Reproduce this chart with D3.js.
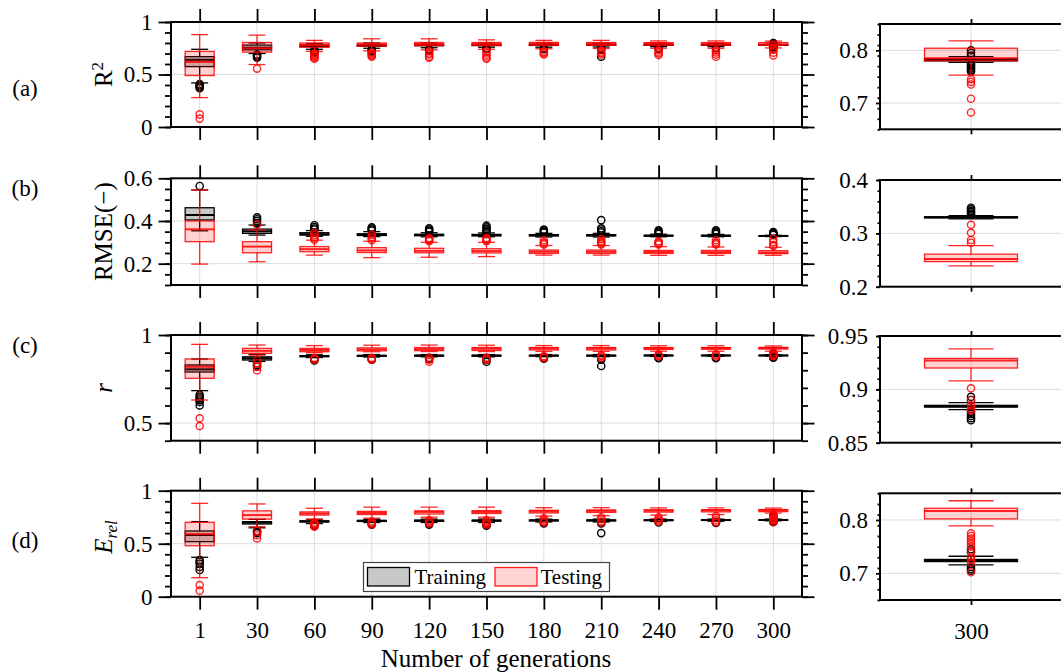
<!DOCTYPE html>
<html>
<head>
<meta charset="utf-8">
<script src="https://cdn.jsdelivr.net/npm/d3@7"></script>
<style>
  body { margin: 0; background: #fff; }
  text { font-family: "Liberation Serif", "DejaVu Serif", serif; fill: #000; }
</style>
</head>
<body>
<script>
// Generations on the x axis
var generations = ["1", "30", "60", "90", "120", "150", "180", "210", "240", "270", "300"];

// Box stats per generation: [lower whisker, q1, median, q3, upper whisker]
// (a) R^2
var r2Train = [
  [0.42, 0.575, 0.64, 0.67, 0.74], [0.70, 0.735, 0.755, 0.78, 0.80], [0.74, 0.765, 0.772, 0.78, 0.795],
  [0.75, 0.77, 0.777, 0.782, 0.80], [0.755, 0.775, 0.78, 0.785, 0.80], [0.76, 0.776, 0.781, 0.786, 0.80],
  [0.76, 0.777, 0.781, 0.786, 0.80], [0.762, 0.778, 0.782, 0.786, 0.80], [0.765, 0.778, 0.782, 0.786, 0.80],
  [0.766, 0.779, 0.782, 0.785, 0.795], [0.777, 0.780, 0.782, 0.784, 0.788]
];
var r2TrainOut = [
  [0.41, 0.40, 0.39, 0.38, 0.37], [0.69, 0.68, 0.67, 0.66], [0.73, 0.72, 0.71], [0.74, 0.73, 0.72],
  [0.74, 0.73], [0.75, 0.74], [0.75, 0.74], [0.75, 0.74, 0.67], [0.75, 0.745], [0.755, 0.75],
  [0.80, 0.795, 0.79, 0.775, 0.772, 0.77, 0.767, 0.765, 0.762, 0.76]
];
var r2Test = [
  [0.28, 0.49, 0.62, 0.72, 0.88], [0.595, 0.713, 0.75, 0.805, 0.875], [0.72, 0.76, 0.78, 0.80, 0.825],
  [0.725, 0.77, 0.785, 0.80, 0.84], [0.735, 0.775, 0.79, 0.805, 0.84], [0.74, 0.776, 0.79, 0.805, 0.83],
  [0.745, 0.778, 0.792, 0.806, 0.825], [0.748, 0.778, 0.792, 0.805, 0.825], [0.75, 0.779, 0.792, 0.804, 0.82],
  [0.75, 0.779, 0.792, 0.804, 0.82], [0.753, 0.780, 0.785, 0.804, 0.818]
];
var r2TestOut = [
  [0.12, 0.08], [0.556], [0.70, 0.69, 0.68, 0.67, 0.66, 0.65], [0.71, 0.70, 0.69, 0.68, 0.67],
  [0.72, 0.70, 0.69, 0.67, 0.66], [0.72, 0.70, 0.68, 0.66, 0.65], [0.72, 0.71, 0.70, 0.69],
  [0.73, 0.71, 0.70, 0.69], [0.73, 0.71, 0.70, 0.685], [0.73, 0.71, 0.69, 0.67],
  [0.745, 0.74, 0.735, 0.708, 0.682]
];

// (b) RMSE
var rmseTrain = [
  [0.354, 0.405, 0.428, 0.462, 0.545], [0.334, 0.342, 0.352, 0.362, 0.381], [0.328, 0.334, 0.338, 0.345, 0.355],
  [0.327, 0.332, 0.336, 0.340, 0.350], [0.326, 0.331, 0.334, 0.338, 0.345], [0.326, 0.330, 0.334, 0.337, 0.344],
  [0.325, 0.330, 0.333, 0.336, 0.342], [0.325, 0.330, 0.333, 0.336, 0.342], [0.326, 0.329, 0.331, 0.333, 0.338],
  [0.326, 0.329, 0.331, 0.333, 0.337], [0.327, 0.329, 0.330, 0.331, 0.333]
];
var rmseTrainOut = [
  [0.564], [0.417, 0.408, 0.40, 0.39], [0.38, 0.372, 0.365, 0.36], [0.37, 0.365, 0.36, 0.355],
  [0.366, 0.36, 0.355, 0.35], [0.378, 0.37, 0.362, 0.355, 0.35], [0.36, 0.355, 0.35, 0.345],
  [0.404, 0.366, 0.36, 0.352, 0.346], [0.356, 0.35, 0.345, 0.34], [0.356, 0.35, 0.345, 0.34],
  [0.348, 0.345, 0.342, 0.34, 0.337, 0.335]
];
var rmseTest = [
  [0.198, 0.303, 0.361, 0.40, 0.545], [0.209, 0.251, 0.28, 0.303, 0.358], [0.24, 0.256, 0.268, 0.28, 0.31],
  [0.228, 0.252, 0.262, 0.275, 0.305], [0.23, 0.251, 0.26, 0.272, 0.30], [0.233, 0.250, 0.259, 0.27, 0.30],
  [0.24, 0.248, 0.256, 0.264, 0.285], [0.24, 0.248, 0.256, 0.264, 0.285], [0.239, 0.248, 0.255, 0.262, 0.28],
  [0.239, 0.248, 0.254, 0.262, 0.278], [0.239, 0.247, 0.252, 0.261, 0.277]
];
var rmseTestOut = [
  [], [0.384], [0.345, 0.335, 0.325, 0.318, 0.312], [0.335, 0.325, 0.318, 0.31], [0.32, 0.315, 0.31, 0.305],
  [0.32, 0.315, 0.31, 0.305], [0.31, 0.30, 0.295, 0.29], [0.315, 0.305, 0.30, 0.295, 0.29],
  [0.305, 0.30, 0.295, 0.29], [0.31, 0.30, 0.295, 0.29], [0.316, 0.301, 0.2875, 0.2825]
];

// (c) r
var rTrain = [
  [0.684, 0.79, 0.805, 0.83, 0.864], [0.85, 0.858, 0.868, 0.876, 0.89], [0.872, 0.877, 0.88, 0.883, 0.888],
  [0.875, 0.879, 0.882, 0.884, 0.889], [0.876, 0.880, 0.883, 0.885, 0.889], [0.876, 0.880, 0.883, 0.885, 0.889],
  [0.877, 0.881, 0.883, 0.885, 0.889], [0.877, 0.881, 0.883, 0.885, 0.889], [0.878, 0.882, 0.884, 0.885, 0.888],
  [0.879, 0.882, 0.884, 0.885, 0.888], [0.881, 0.8835, 0.884, 0.885, 0.8875]
];
var rTrainOut = [
  [0.66, 0.65, 0.64, 0.63, 0.62, 0.60], [0.84, 0.83, 0.82], [0.865, 0.86, 0.855], [0.865, 0.86],
  [0.87, 0.865], [0.87, 0.86, 0.848], [0.87, 0.865], [0.87, 0.86, 0.824], [0.872, 0.868], [0.872, 0.868],
  [0.893, 0.89, 0.879, 0.877, 0.875, 0.873, 0.871]
];
var rTest = [
  [0.631, 0.754, 0.82, 0.864, 0.947], [0.886, 0.896, 0.91, 0.924, 0.943], [0.90, 0.905, 0.915, 0.924, 0.94],
  [0.905, 0.91, 0.918, 0.927, 0.942], [0.906, 0.911, 0.92, 0.929, 0.943], [0.906, 0.912, 0.922, 0.929, 0.942],
  [0.907, 0.915, 0.924, 0.929, 0.94], [0.907, 0.915, 0.924, 0.929, 0.94], [0.908, 0.918, 0.925, 0.929, 0.939],
  [0.908, 0.919, 0.926, 0.929, 0.939], [0.908, 0.920, 0.927, 0.929, 0.938]
];
var rTestOut = [
  [0.527, 0.483], [0.858, 0.84, 0.82, 0.80], [0.87, 0.865, 0.86], [0.87, 0.865, 0.86], [0.87, 0.86, 0.848],
  [0.87, 0.865, 0.86], [0.88, 0.875, 0.87], [0.885, 0.88, 0.87], [0.89, 0.885, 0.88], [0.89, 0.885, 0.878],
  [0.901, 0.890, 0.885, 0.882, 0.880]
];

// (d) E_rel
var eTrain = [
  [0.372, 0.519, 0.582, 0.62, 0.708], [0.65, 0.686, 0.70, 0.708, 0.73], [0.69, 0.705, 0.71, 0.716, 0.73],
  [0.70, 0.71, 0.715, 0.72, 0.73], [0.70, 0.712, 0.717, 0.722, 0.732], [0.70, 0.713, 0.718, 0.722, 0.732],
  [0.705, 0.715, 0.72, 0.724, 0.732], [0.705, 0.715, 0.72, 0.724, 0.732], [0.71, 0.718, 0.722, 0.725, 0.732],
  [0.712, 0.72, 0.723, 0.726, 0.732], [0.716, 0.722, 0.724, 0.726, 0.732]
];
var eTrainOut = [
  [0.346, 0.33, 0.31, 0.28, 0.252], [0.62, 0.61, 0.60], [0.68, 0.67], [0.69, 0.68], [0.69, 0.68],
  [0.69, 0.68, 0.67], [0.70, 0.69], [0.70, 0.69, 0.60], [0.70], [0.70, 0.695],
  [0.745, 0.74, 0.712, 0.708, 0.705]
];
var eTest = [
  [0.179, 0.481, 0.59, 0.702, 0.881], [0.66, 0.732, 0.77, 0.81, 0.875], [0.73, 0.77, 0.785, 0.80, 0.834],
  [0.74, 0.775, 0.79, 0.805, 0.845], [0.75, 0.78, 0.80, 0.81, 0.845], [0.75, 0.785, 0.80, 0.812, 0.845],
  [0.76, 0.79, 0.805, 0.815, 0.84], [0.765, 0.795, 0.81, 0.818, 0.84], [0.77, 0.798, 0.812, 0.82, 0.838],
  [0.775, 0.8, 0.815, 0.821, 0.838], [0.789, 0.802, 0.817, 0.822, 0.836]
];
var eTestOut = [
  [0.11, 0.057], [0.62, 0.58, 0.55], [0.70, 0.69, 0.68, 0.67, 0.66], [0.71, 0.70, 0.69, 0.68],
  [0.72, 0.71, 0.70, 0.69], [0.72, 0.71, 0.70, 0.69, 0.68], [0.74, 0.72, 0.71, 0.70],
  [0.75, 0.73, 0.71, 0.70], [0.75, 0.73, 0.72, 0.71], [0.76, 0.74, 0.72, 0.70],
  [0.775, 0.77, 0.765, 0.76, 0.755, 0.75, 0.74, 0.73, 0.725, 0.72, 0.702]
];

var svgWidth = 1061, svgHeight = 672;

var svg = d3.select("body").append("svg")
  .attr("width", svgWidth)
  .attr("height", svgHeight);

// main (left) and zoomed (right) panel extents
var mainX = [171, 802], zoomX = [880, 1062];

var panels = [
  { tag: "(a)", tagY: 88, train: r2Train, trainOut: r2TrainOut, test: r2Test, testOut: r2TestOut,
    main: { top: 22, bottom: 127, domain: [0, 1], major: [0, 0.5, 1], minor: 0.1 },
    zoom: { top: 24, bottom: 129.3, domain: [0.65, 0.85], major: [0.7, 0.8], minor: 0.02 } },
  { tag: "(b)", tagY: 188, train: rmseTrain, trainOut: rmseTrainOut, test: rmseTest, testOut: rmseTestOut,
    main: { top: 178.3, bottom: 285, domain: [0.1, 0.6], major: [0.2, 0.4, 0.6], minor: 0.05 },
    zoom: { top: 180, bottom: 286.7, domain: [0.2, 0.4], major: [0.2, 0.3, 0.4], minor: 0.02 } },
  { tag: "(c)", tagY: 345, train: rTrain, trainOut: rTrainOut, test: rTest, testOut: rTestOut,
    main: { top: 335, bottom: 440.7, domain: [0.4, 1], major: [0.5, 1], minor: 0.1 },
    zoom: { top: 336, bottom: 442.7, domain: [0.85, 0.95], major: [0.85, 0.9, 0.95], minor: 0.01 } },
  { tag: "(d)", tagY: 540, train: eTrain, trainOut: eTrainOut, test: eTest, testOut: eTestOut,
    main: { top: 490.7, bottom: 596.7, domain: [0, 1], major: [0, 0.5, 1], minor: 0.1 },
    zoom: { top: 493.3, bottom: 600, domain: [0.65, 0.85], major: [0.7, 0.8], minor: 0.02 } }
];

var trainStyle = { stroke: "#000", fill: "rgba(0,0,0,0.22)", out: "#000" };
var testStyle = { stroke: "rgba(255,0,0,0.85)", fill: "rgba(255,0,0,0.18)", out: "rgba(255,0,0,0.85)" };

function fmt(v) { return String(+v.toFixed(2)); }

function minorValues(domain, step) {
  var n = Math.round((domain[1] - domain[0]) / step);
  return d3.range(0, n + 1).map(function(i) { return +(domain[0] + i * step).toFixed(4); });
}

// frame, grid and ticks of one axes box
function drawFrame(x, y, cfg, x0, x1, cats, big, showX) {
  var g = svg.append("g");
  var majorLen = big ? 12.5 : 4, minorLen = big ? 6 : 2.5, xLen = big ? 13 : 5;
  var minors = minorValues(cfg.domain, cfg.minor);

  // grid
  g.selectAll(".hg").data(cfg.major).enter().append("line")
    .attr("x1", x0).attr("x2", x1)
    .attr("y1", function(d) { return y(d); }).attr("y2", function(d) { return y(d); })
    .style("stroke", "#dcdcdc").style("stroke-width", 1);
  g.selectAll(".vg").data(cats).enter().append("line")
    .attr("x1", function(d) { return x(d); }).attr("x2", function(d) { return x(d); })
    .attr("y1", cfg.top).attr("y2", cfg.bottom)
    .style("stroke", "#dcdcdc").style("stroke-width", 1);

  // y ticks left + right
  var yl = g.append("g").attr("transform", "translate(" + x0 + ",0)")
    .call(d3.axisLeft(y).tickValues(minors).tickSize(minorLen).tickFormat(""));
  var yL = g.append("g").attr("transform", "translate(" + x0 + ",0)")
    .call(d3.axisLeft(y).tickValues(cfg.major).tickSize(majorLen).tickPadding(big ? 6 : 8).tickFormat(fmt));
  var yr = g.append("g").attr("transform", "translate(" + x1 + ",0)")
    .call(d3.axisRight(y).tickValues(minors).tickSize(minorLen).tickFormat(""));
  var yR = g.append("g").attr("transform", "translate(" + x1 + ",0)")
    .call(d3.axisRight(y).tickValues(cfg.major).tickSize(majorLen).tickFormat(""));

  // x ticks top + bottom
  var xt = g.append("g").attr("transform", "translate(0," + cfg.top + ")")
    .call(d3.axisTop(x).tickSize(xLen).tickFormat(""));
  var xb = g.append("g").attr("transform", "translate(0," + cfg.bottom + ")")
    .call(d3.axisBottom(x).tickSize(xLen).tickPadding(big ? 12 : 18).tickFormat(showX ? null : ""));

  [yl, yL, yr, yR, xt, xb].forEach(function(a) {
    a.attr("font-family", null).attr("font-size", null);
    a.select(".domain").remove();
    a.selectAll("line").style("stroke", "#000").style("stroke-width", 1.8);
    a.selectAll("text").style("font-size", "23px").style("fill", "#000");
  });

  g.append("rect")
    .attr("x", x0).attr("y", cfg.top)
    .attr("width", x1 - x0).attr("height", cfg.bottom - cfg.top)
    .style("fill", "none").style("stroke", "#000").style("stroke-width", 2);
  return g;
}

// one set of boxplots
function drawBoxes(layer, x, y, cats, stats, outs, style, bw, cw) {
  var grp = layer.append("g");
  cats.forEach(function(c, i) {
    var s = stats[i], cx = x(c);
    grp.append("line").attr("x1", cx).attr("x2", cx).attr("y1", y(s[0])).attr("y2", y(s[1]))
      .style("stroke", style.stroke).style("stroke-width", 1.3);
    grp.append("line").attr("x1", cx).attr("x2", cx).attr("y1", y(s[3])).attr("y2", y(s[4]))
      .style("stroke", style.stroke).style("stroke-width", 1.3);
    [s[0], s[4]].forEach(function(v) {
      grp.append("line").attr("x1", cx - cw / 2).attr("x2", cx + cw / 2).attr("y1", y(v)).attr("y2", y(v))
        .style("stroke", style.stroke).style("stroke-width", 1.3);
    });
    grp.append("rect")
      .attr("x", cx - bw / 2).attr("y", y(s[3]))
      .attr("width", bw).attr("height", Math.max(0.5, y(s[1]) - y(s[3])))
      .style("fill", style.fill).style("stroke", style.stroke).style("stroke-width", 1.3);
    grp.append("line").attr("x1", cx - bw / 2).attr("x2", cx + bw / 2).attr("y1", y(s[2])).attr("y2", y(s[2]))
      .style("stroke", style.stroke).style("stroke-width", 2);
    grp.selectAll(null).data(outs[i]).enter().append("circle")
      .attr("cx", cx).attr("cy", function(d) { return y(d); }).attr("r", 3.6)
      .style("fill", "none").style("stroke", style.out).style("stroke-width", 1.4);
  });
}

panels.forEach(function(p, k) {
  var last = k === panels.length - 1;

  // main panel
  var x = d3.scalePoint().domain(generations).range(mainX).padding(0.5);
  var y = d3.scaleLinear().domain(p.main.domain).range([p.main.bottom, p.main.top]);
  var g = drawFrame(x, y, p.main, mainX[0], mainX[1], generations, true, last);
  drawBoxes(g, x, y, generations, p.train, p.trainOut, trainStyle, 29, 17);
  drawBoxes(g, x, y, generations, p.test, p.testOut, testStyle, 29, 17);

  // zoomed panel with the last generation only
  var zc = generations.slice(-1);
  var zx = d3.scalePoint().domain(zc).range(zoomX).padding(0.5);
  var zy = d3.scaleLinear().domain(p.zoom.domain).range([p.zoom.bottom, p.zoom.top]);
  var zg = drawFrame(zx, zy, p.zoom, zoomX[0], zoomX[1], zc, false, last);
  var n = generations.length - 1;
  drawBoxes(zg, zx, zy, zc, p.train.slice(n), p.trainOut.slice(n), trainStyle, 93, 45);
  drawBoxes(zg, zx, zy, zc, p.test.slice(n), p.testOut.slice(n), testStyle, 93, 45);

  // panel tag
  svg.append("text").attr("x", 25).attr("y", p.tagY + 8)
    .attr("text-anchor", "middle").style("font-size", "23px").text(p.tag);
});

// y axis labels
function yLabel(cy) {
  return svg.append("text")
    .attr("transform", "translate(112," + cy + ") rotate(-90)")
    .attr("text-anchor", "middle")
    .style("font-size", "25px");
}
var l1 = yLabel(74.5);
l1.append("tspan").text("R");
l1.append("tspan").attr("dy", -9).style("font-size", "17px").text("2");
yLabel(231.7).text("RMSE(\u2212)");
yLabel(388).append("tspan").style("font-style", "italic").text("r");
var l4 = yLabel(537);
l4.append("tspan").style("font-style", "italic").text("E");
l4.append("tspan").attr("dy", 5).style("font-style", "italic").style("font-size", "17px").text("rel");

// x axis label
svg.append("text")
  .attr("x", 496).attr("y", 667)
  .attr("text-anchor", "middle")
  .style("font-size", "25px")
  .text("Number of generations");

// legend
var legend = svg.append("g").attr("transform", "translate(363.5,562.5)");
legend.append("rect").attr("width", 246).attr("height", 29)
  .style("fill", "#fff").style("stroke", "#444").style("stroke-width", 1.2);
legend.append("rect").attr("x", 4).attr("y", 5).attr("width", 42).attr("height", 18.5)
  .style("fill", "#c8c8c8").style("stroke", "#000").style("stroke-width", 1.3);
legend.append("text").attr("x", 51).attr("y", 21.5).style("font-size", "21px").text("Training");
legend.append("rect").attr("x", 131.5).attr("y", 5).attr("width", 42).attr("height", 18.5)
  .style("fill", "#ffd4d4").style("stroke", "#ff1a1a").style("stroke-width", 1.3);
legend.append("text").attr("x", 177).attr("y", 21.5).style("font-size", "21px").text("Testing");
</script>
</body>
</html>
